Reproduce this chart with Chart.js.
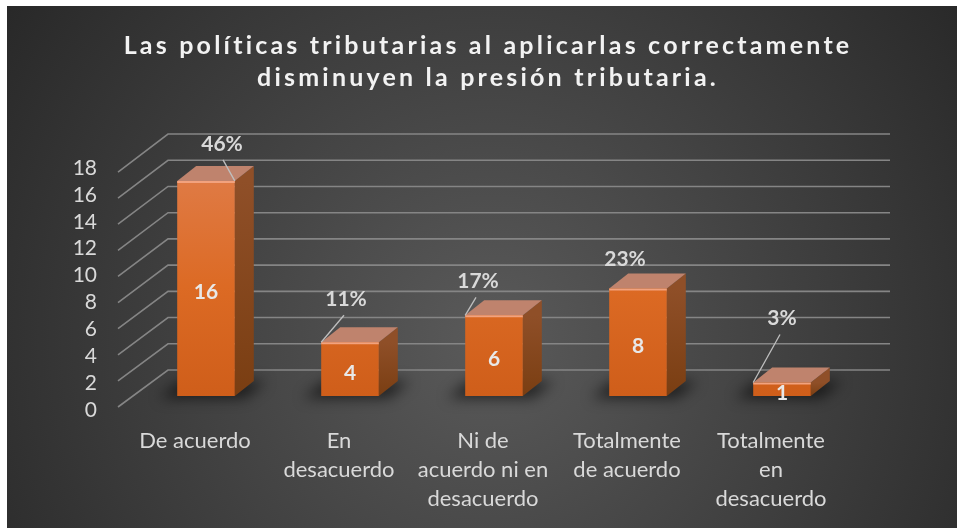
<!DOCTYPE html>
<html>
<head>
<meta charset="utf-8">
<script src="https://cdn.jsdelivr.net/npm/chart.js@4.4.1/dist/chart.umd.min.js"></script>
<style>
  html, body { margin: 0; padding: 0; background: #ffffff; }
  #wrap { width: 957px; height: 528px; }
</style>
</head>
<body>
<div id="wrap"><canvas id="chart" width="957" height="528"></canvas></div>
<script>
"use strict";

// data
var categories = [
    ["De acuerdo"],
    ["En", "desacuerdo"],
    ["Ni de", "acuerdo ni en", "desacuerdo"],
    ["Totalmente", "de acuerdo"],
    ["Totalmente", "en", "desacuerdo"]
];
var counts = [16, 4, 6, 8, 1];
var percents = [46, 11, 17, 23, 3];
var yMax = 18;
var yStep = 2;
var titleLines = ["Las políticas tributarias al aplicarlas correctamente", "disminuyen la presión tributaria."];

// placement of the % labels relative to the bar top (px), and which top corner the leader goes to
var pctOffsets = [[16, -37], [-4, -43], [-16, -34], [-13, -29], [0, -64]];
var pctLeaders = ['right', 'left', 'left', null, 'left'];

var DEPTH_X = 19, DEPTH_Y = -15;
var FONT = "Lato, 'Open Sans', sans-serif";

var background3d = {
    id: 'background3d',
    beforeDraw: function (chart) {
        var ctx = chart.ctx;
        ctx.save();
        ctx.fillStyle = '#ffffff';
        ctx.fillRect(0, 0, chart.width, chart.height);
        var g = ctx.createRadialGradient(490, 340, 0, 490, 340, 640);
        g.addColorStop(0, '#5a5a5a');
        g.addColorStop(1, '#242424');
        ctx.fillStyle = g;
        ctx.fillRect(7, 6, chart.width - 7, chart.height - 6);
        ctx.restore();
        // only the title is drawn before the datasets, so this spacing only hits it
        ctx.letterSpacing = '3.2px';
    },
    beforeDatasetsDraw: function (chart) {
        var ctx = chart.ctx;
        ctx.letterSpacing = '0px';
        var y = chart.scales.y;
        var area = chart.chartArea;
        var base = y.bottom;

        // back wall grid + floor diagonals
        ctx.save();
        ctx.strokeStyle = '#858585';
        ctx.lineWidth = 1.6;
        for (var v = 0; v <= yMax; v += yStep) {
            var d = base - y.getPixelForValue(v);
            var fy = base + 11 - d * 0.971;
            var by = base - 26 - d * 0.975;
            ctx.beginPath();
            ctx.moveTo(area.left - 16, fy);
            ctx.lineTo(area.left + 34, by);
            ctx.lineTo(area.right + 36, by);
            ctx.stroke();
        }
        ctx.restore();

        var meta = chart.getDatasetMeta(0);
        meta.data.forEach(function (bar) {
            var left = bar.x - bar.width / 2;
            var right = bar.x + bar.width / 2;
            var top = bar.y;
            var bottom = bar.base;

            // floor shadow
            ctx.save();
            ctx.filter = 'blur(7px)';
            ctx.fillStyle = 'rgba(0,0,0,0.6)';
            ctx.beginPath();
            ctx.moveTo(left - 18, bottom + 2);
            ctx.lineTo(right + 10, bottom + 2);
            ctx.lineTo(right + DEPTH_X + 12, bottom + DEPTH_Y);
            ctx.lineTo(left + 4, bottom + DEPTH_Y);
            ctx.closePath();
            ctx.fill();
            ctx.restore();

            // side face
            ctx.save();
            var sg = ctx.createLinearGradient(0, top, 0, bottom);
            sg.addColorStop(0, '#8f4f28');
            sg.addColorStop(1, '#7a3e12');
            ctx.fillStyle = sg;
            ctx.beginPath();
            ctx.moveTo(right, top);
            ctx.lineTo(right + DEPTH_X, top + DEPTH_Y);
            ctx.lineTo(right + DEPTH_X, bottom + DEPTH_Y);
            ctx.lineTo(right, bottom);
            ctx.closePath();
            ctx.fill();

            // top face
            ctx.fillStyle = '#bf836d';
            ctx.beginPath();
            ctx.moveTo(left, top);
            ctx.lineTo(left + DEPTH_X, top + DEPTH_Y);
            ctx.lineTo(right + DEPTH_X, top + DEPTH_Y);
            ctx.lineTo(right, top);
            ctx.closePath();
            ctx.fill();
            ctx.restore();
        });
    },
    afterDatasetsDraw: function (chart) {
        var ctx = chart.ctx;
        var meta = chart.getDatasetMeta(0);
        meta.data.forEach(function (bar, i) {
            var left = bar.x - bar.width / 2;
            var right = bar.x + bar.width / 2;
            var top = bar.y;
            var bottom = bar.base;

            ctx.save();
            // highlight on front top edge
            ctx.strokeStyle = '#f2a27e';
            ctx.lineWidth = 2;
            ctx.beginPath();
            ctx.moveTo(left, top + 1);
            ctx.lineTo(right, top + 1);
            ctx.stroke();

            // value inside the bar
            ctx.fillStyle = '#e8e8e8';
            ctx.font = 'bold 21px ' + FONT;
            ctx.textAlign = 'center';
            ctx.textBaseline = 'middle';
            ctx.fillText(String(counts[i]), bar.x, (top + bottom) / 2 + 4);

            // percentage with leader line
            var lx = bar.x + pctOffsets[i][0];
            var ly = top + pctOffsets[i][1];
            if (pctLeaders[i]) {
                ctx.strokeStyle = '#bfbfbf';
                ctx.lineWidth = 1.3;
                ctx.beginPath();
                ctx.moveTo(lx + (pctLeaders[i] === 'right' ? 1 : -2), ly + 16);
                ctx.lineTo(pctLeaders[i] === 'right' ? right : left, top);
                ctx.stroke();
            }
            ctx.fillStyle = '#d9d9d9';
            ctx.font = 'bold 21px ' + FONT;
            ctx.fillText(percents[i] + '%', lx, ly);
            ctx.restore();
        });
    }
};

function FrontGradient(context) {
    var chart = context.chart;
    var area = chart.chartArea;
    if (!area) {
        return '#d86a2a';
    }
    var g = chart.ctx.createLinearGradient(0, area.top, 0, area.bottom);
    g.addColorStop(0, '#e07e4c');
    g.addColorStop(0.55, '#dc6a24');
    g.addColorStop(1, '#cf5e1a');
    return g;
}

const context = document.getElementById('chart');
const myChart = new Chart(context, {
    type: 'bar',
    data: {
        labels: categories,
        datasets: [{
            label: 'Respuestas',
            data: counts,
            backgroundColor: FrontGradient,
            borderWidth: 0,
            barPercentage: 0.4,
            categoryPercentage: 1
        }]
    },
    options: {
        responsive: false,
        animation: false,
        devicePixelRatio: 1,
        layout: {
            padding: { left: 19, right: 0, top: 0, bottom: 0 }
        },
        plugins: {
            legend: { display: false },
            tooltip: { enabled: false },
            title: {
                display: true,
                text: titleLines,
                color: '#f2f2f2',
                font: { family: FONT, size: 25, weight: 'bold', lineHeight: 1.28 },
                padding: { top: 30, bottom: 60 }
            }
        },
        scales: {
            x: {
                grid: { display: false, drawTicks: false },
                border: { display: false },
                ticks: {
                    color: '#d9d9d9',
                    font: { family: FONT, size: 22, lineHeight: 1.32 },
                    padding: 30,
                    labelOffset: -11,
                    maxRotation: 0,
                    autoSkip: false,
                    z: 1
                },
                afterFit: function (scale) { scale.height = 132; }
            },
            y: {
                min: 0,
                max: yMax,
                grid: { display: false, drawTicks: false },
                border: { display: false },
                ticks: {
                    stepSize: yStep,
                    autoSkip: false,
                    color: '#d9d9d9',
                    font: { family: FONT, size: 21 },
                    padding: 37,
                    labelOffset: 14,
                    z: 1
                },
                afterFit: function (scale) { scale.width = 115; }
            },
            // empty spacer on the right, keeps the title centred on the whole picture
            yRight: {
                type: 'linear',
                position: 'right',
                display: true,
                grid: { display: false, drawTicks: false },
                border: { display: false },
                ticks: { display: false },
                afterFit: function (scale) { scale.width = 103; }
            }
        }
    },
    plugins: [background3d]
});
</script>
</body>
</html>
